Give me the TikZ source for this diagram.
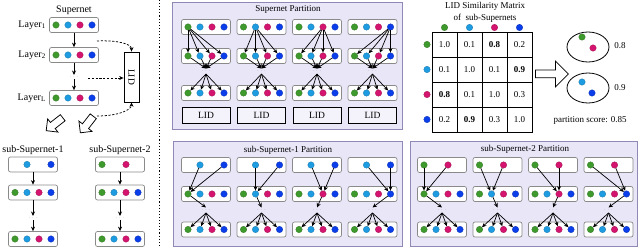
\documentclass[tikz,border=0pt]{standalone}
\usepackage{fontspec}
\setmainfont{Liberation Serif}
\usepackage{graphicx}
\usetikzlibrary{arrows.meta,shapes.arrows,shapes.geometric,calc}
\definecolor{cg}{HTML}{3E9A2C}
\definecolor{cc}{HTML}{1E9CE2}
\definecolor{cm}{HTML}{D4146E}
\definecolor{cb}{HTML}{0B3EEB}
\definecolor{lav}{HTML}{E9E6F8}
\definecolor{lavd}{HTML}{8E89B5}
\definecolor{boxg}{HTML}{8A8A8A}
\tikzset{
 dotn/.style={circle,inner sep=0pt,minimum size=6.5pt,draw=#1!75!black,line width=0.3pt,fill=#1},
 rowbox/.style={draw=boxg,fill=white,rounded corners=2pt,line width=0.7pt,minimum width=49pt,minimum height=15pt,inner sep=0pt},
 panel/.style={draw=lavd,fill=lav,line width=0.7pt,inner sep=0pt,anchor=north west},
 lidbox/.style={draw=black,fill=lav!50!white,line width=0.8pt,minimum width=48pt,minimum height=16pt,inner sep=0pt,font=\fontsize{9.5}{10}\selectfont},
 arr/.style={-{Stealth[length=4.5pt,width=4pt]},line width=0.7pt},
 dasharr/.style={-{Stealth[length=4.5pt,width=4pt]},dash pattern=on 2.2pt off 1.6pt,line width=0.75pt},
 hollowA/.style={single arrow,draw,fill=white,line width=0.75pt,minimum height=21pt,inner xsep=0pt,inner ysep=3.5pt,single arrow head extend=4.5pt},
 bigarrow/.style={single arrow,draw,fill=white,line width=0.75pt,minimum height=33pt,inner xsep=0pt,inner ysep=3.5pt,single arrow head extend=9pt},
 vdots/.style={font=\tiny,text=gray,inner sep=0pt},
 lbl/.style={font=\fontsize{9}{10}\selectfont,inner sep=0pt},
 llbl/.style={font=\fontsize{10}{11}\selectfont,inner sep=0pt},
 cellbox/.style={draw,line width=0.9pt,minimum size=25pt,inner sep=0pt,font=\fontsize{9}{10}\selectfont},
 ell/.style={draw,ellipse,line width=0.8pt,minimum width=42pt,minimum height=30pt,inner sep=0pt},
}
\newcommand\mkrow[4]{%
  \node[rowbox] (#1) at (#2,#3) {};
  \foreach \i/\c in {#4}{\node[dotn=\c] (#1-\i) at ({#2+(\i-2.5)*12},#3) {};}
}
\newcommand\fullrow[3]{\mkrow{#1}{#2}{#3}{1/cg,2/cc,3/cm,4/cb}}
\newcommand\mcell[3]{\node[cellbox] (m#1#2) at ({419.5+25*#1},{19.5+25*#2}) {#3};}
\begin{document}
\begin{tikzpicture}[x=1pt,y=-1pt]
\useasboundingbox (0,0) rectangle (640,248);
% separator
\draw[dotted,line width=1.1pt] (159.5,0) -- (159.5,248);
% ---------- left panel ----------
\node[llbl] (st) at (74,10) {Supernet};
\fullrow{L1}{74}{25}
\fullrow{L2}{74}{55}
\node[vdots] (Ld) at (74,77) {$\cdots$};
\fullrow{L3}{74}{98}
\node[llbl,anchor=east] (l1) at (46,25) {Layer\textsubscript{1}};
\node[llbl,anchor=east] (l2) at (46,55) {Layer\textsubscript{2}};
\node[llbl,anchor=east] (l3) at (46,98) {Layer\textsubscript{L}};
\coordinate (Lu) at (74,75);
\coordinate (Lv) at (74,79);
\draw[arr] (L1) -- (L2);
\draw[arr] (L2) -- (Lu);
\draw[arr] (Lv) -- (L3);
\node[draw,line width=0.8pt,minimum width=15pt,minimum height=50pt,inner sep=0pt,font=\fontsize{9.5}{10}\selectfont] (LID) at (131.5,77) {\rotatebox{-90}{LID}};
\coordinate (da) at (97,41);
\coordinate (db) at (88,78);
\coordinate (dc) at (97,116);
\draw[dasharr] (da) .. controls (118,40) and (131.5,44) .. (LID.north);
\draw[dasharr] (db) -- (db -| LID.west);
\draw[dasharr] (dc) .. controls (118,116) and (131.5,110) .. (LID.south);
\node[hollowA,rotate=218] (H1) at (56,123) {};
\node[hollowA,rotate=232] (H2) at (88,123) {};
% sub-supernets
\node[llbl] (s1t) at (33,150) {sub-Supernet-1};
\node[llbl] (s2t) at (120,150) {sub-Supernet-2};
\mkrow{A1}{33}{164.5}{2/cc,4/cb}
\fullrow{A2}{33}{192.5}
\node[vdots] (Ad) at (33,218) {$\cdots$};
\fullrow{A3}{33}{239}
\coordinate (Au) at (33,216);
\coordinate (Av) at (33,220);
\draw[arr] (A1) -- (A2);
\draw[arr] (A2) -- (Au);
\draw[arr] (Av) -- (A3);
\mkrow{B1}{120}{164.5}{1/cg,3/cm}
\fullrow{B2}{120}{192.5}
\node[vdots] (Bd) at (120,218) {$\cdots$};
\fullrow{B3}{120}{239}
\coordinate (Bu) at (120,216);
\coordinate (Bv) at (120,220);
\draw[arr] (B1) -- (B2);
\draw[arr] (B2) -- (Bu);
\draw[arr] (Bv) -- (B3);
% ---------- Supernet partition ----------
\node[panel,minimum width=230pt,minimum height=127pt] (P1) at (172,2) {};
\node[lbl] (P1t) at (288,9) {Supernet Partition};
\foreach \k/\X in {1/206,2/261.5,3/317,4/372.5}{
  \fullrow{T\k a}{\X}{27}
  \fullrow{T\k b}{\X}{56}
  \fullrow{T\k c}{\X}{93}
  \node[vdots] (T\k d) at (\X,71) {$\cdots$};
  \coordinate (T\k u) at (\X,68.5);
  \coordinate (T\k v) at (\X,74);
  \node[lidbox] (T\k L) at (\X,115) {LID};
  \foreach \j in {1,...,4}{
    \draw[arr] (T\k a-\k) -- (T\k b-\j);
    \draw[arr] (T\k b-\j) -- (T\k u);
    \draw[arr] (T\k v) -- (T\k c-\j);
  }
}
% ---------- sub-Supernet-1 partition ----------
\node[panel,minimum width=229pt,minimum height=105pt] (P2) at (173,141) {};
\node[lbl] (P2t) at (288,150) {sub-Supernet-1 Partition};
\foreach \k/\X in {1/206,2/261.5,3/317,4/372.5}{
  \mkrow{S\k a}{\X}{165}{2/cc,4/cb}
  \fullrow{S\k b}{\X}{194}
  \fullrow{S\k c}{\X}{229.5}
  \node[vdots] (S\k d) at (\X,210) {$\cdots$};
  \coordinate (S\k u) at (\X,207.5);
  \coordinate (S\k v) at (\X,213);
  \draw[arr] (S\k a-2) -- (S\k b-\k);
  \draw[arr] (S\k a-4) -- (S\k b-\k);
  \draw[arr] (S\k b-\k) -- (S\k u);
  \foreach \j in {1,...,4}{\draw[arr] (S\k v) -- (S\k c-\j);}
}
% ---------- sub-Supernet-2 partition ----------
\node[panel,minimum width=227pt,minimum height=105pt] (P3) at (410,141) {};
\node[lbl] (P3t) at (525,149) {sub-Supernet-2 Partition};
\foreach \k/\X in {1/442,2/497.5,3/553,4/608.5}{
  \mkrow{R\k a}{\X}{165}{1/cg,3/cm}
  \fullrow{R\k b}{\X}{194}
  \fullrow{R\k c}{\X}{229.5}
  \node[vdots] (R\k d) at (\X,210) {$\cdots$};
  \coordinate (R\k u) at (\X,207.5);
  \coordinate (R\k v) at (\X,213);
  \draw[arr] (R\k a-1) -- (R\k b-\k);
  \draw[arr] (R\k a-3) -- (R\k b-\k);
  \draw[arr] (R\k b-\k) -- (R\k u);
  \foreach \j in {1,...,4}{\draw[arr] (R\k v) -- (R\k c-\j);}
}
% ---------- matrix ----------
\node[lbl] (mt1) at (485,6) {LID Similarity Matrix};
\node[lbl] (mt2) at (485,18) {of\ \ sub-Supernets};
\mcell{1}{1}{1.0}\mcell{2}{1}{0.1}\mcell{3}{1}{\textbf{0.8}}\mcell{4}{1}{0.2}
\mcell{1}{2}{0.1}\mcell{2}{2}{1.0}\mcell{3}{2}{0.1}\mcell{4}{2}{\textbf{0.9}}
\mcell{1}{3}{\textbf{0.8}}\mcell{2}{3}{0.1}\mcell{3}{3}{1.0}\mcell{4}{3}{0.3}
\mcell{1}{4}{0.2}\mcell{2}{4}{\textbf{0.9}}\mcell{3}{4}{0.3}\mcell{4}{4}{1.0}
\foreach \i/\c in {1/cg,2/cc,3/cm,4/cb}{
  \node[dotn=\c] (mx\i) at ({419.5+25*\i},27.5) {};
  \node[dotn=\c] (my\i) at (427,{19.5+25*\i}) {};
}
% ---------- result ----------
\node[bigarrow] (HA) at (550,74) {};
\node[ell] (E1) at (588,47) {};
\node[ell] (E2) at (588,88) {};
\node[dotn=cg] (e1g) at (582,37) {};
\node[dotn=cm] (e1m) at (593,48) {};
\node[dotn=cc] (e2c) at (582,82) {};
\node[dotn=cb] (e2b) at (592,93) {};
\node[lbl] (v1) at (620,46) {0.8};
\node[lbl] (v2) at (620,88) {0.9};
\node[lbl] (ps) at (590,120) {partition score: 0.85};
\end{tikzpicture}
\end{document}
